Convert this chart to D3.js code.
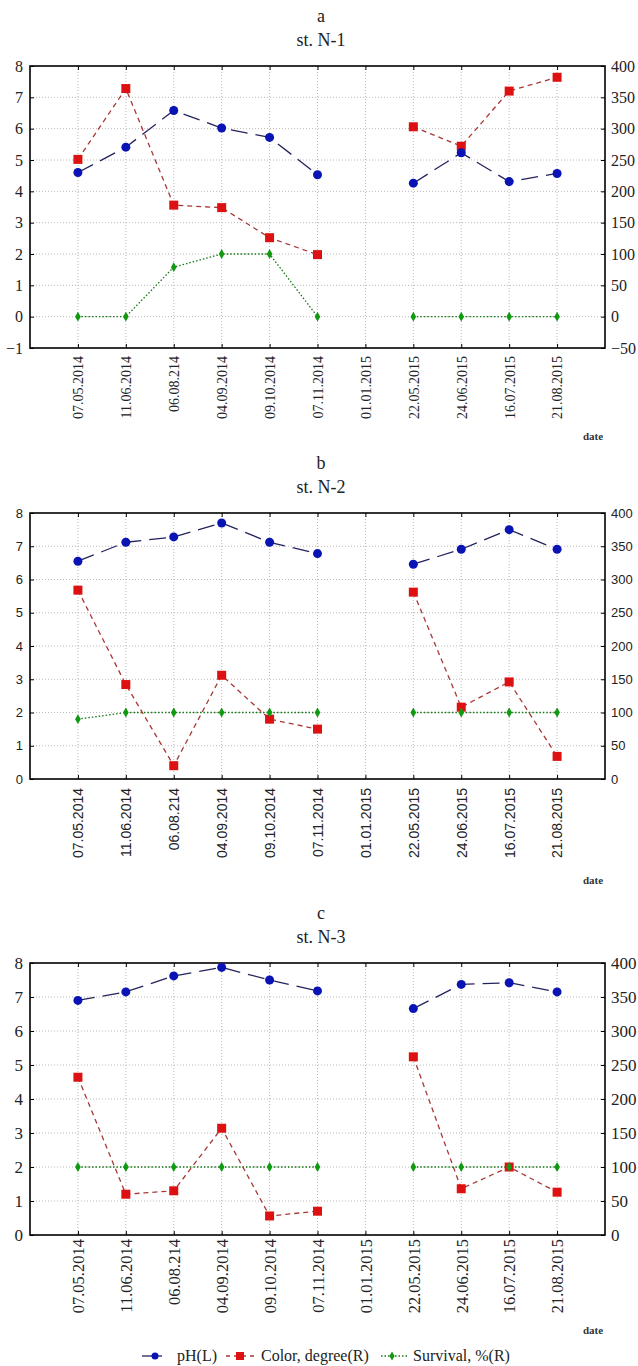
<!DOCTYPE html>
<html>
<head>
<meta charset="utf-8">
<script src="https://cdn.jsdelivr.net/npm/d3@7"></script>
<style>
  body { margin: 0; background: #fff; }
  .serif { font-family: "Liberation Serif", "Times New Roman", "DejaVu Serif", serif; }
  .sans { font-family: "Liberation Sans", Arial, sans-serif; }
</style>
</head>
<body>
<div id="chart"></div>
<script>
// sampling dates (x categories)
var dates = ["07.05.2014", "11.06.2014", "06.08.214", "04.09.2014", "09.10.2014", "07.11.2014",
             "01.01.2015", "22.05.2015", "24.06.2015", "16.07.2015", "21.08.2015"];

// st. N-1
var phA    = [4.6, 5.41, 6.58, 6.02, 5.72, 4.53, null, 4.26, 5.23, 4.31, 4.57];
var colorA = [251, 364, 178, 174, 126, 99, null, 303, 272, 360, 382];
var survA  = [0, 0, 79, 100, 100, 0, null, 0, 0, 0, 0];

// st. N-2
var phB    = [6.55, 7.12, 7.28, 7.7, 7.12, 6.78, null, 6.46, 6.91, 7.5, 6.91];
var colorB = [284, 142, 20, 156, 90, 75, null, 281, 108, 146, 34];
var survB  = [90, 100, 100, 100, 100, 100, null, 100, 100, 100, 100];

// st. N-3
var phC    = [6.9, 7.15, 7.62, 7.87, 7.5, 7.18, null, 6.66, 7.37, 7.42, 7.15];
var colorC = [232, 60, 65, 157, 28, 35, null, 262, 68, 100, 63];
var survC  = [100, 100, 100, 100, 100, 100, null, 100, 100, 100, 100];

// tick labels
var leftTicksA  = [-1, 0, 1, 2, 3, 4, 5, 6, 7, 8];
var rightTicksA = [-50, 0, 50, 100, 150, 200, 250, 300, 350, 400];
var leftTicksBC  = [0, 1, 2, 3, 4, 5, 6, 7, 8];
var rightTicksBC = [0, 50, 100, 150, 200, 250, 300, 350, 400];

var legendLabels = ["pH(L)", "Color, degree(R)", "Survival, %(R)"];

var W = 638, H = 1366;
var plotLeft = 30, plotRight = 605;

var svg = d3.select("#chart").append("svg")
    .attr("width", W)
    .attr("height", H);

// one x scale shared by all three panels
var x = d3.scalePoint()
    .domain(dates)
    .range([plotLeft, plotRight])
    .padding(1);

function drawPanel(p) {
  var g = svg.append("g");

  var yL = d3.scaleLinear()
      .domain([p.leftTicks[0], p.leftTicks[p.leftTicks.length - 1]])
      .range([p.bottom, p.top]);
  var yR = d3.scaleLinear()
      .domain([p.rightTicks[0], p.rightTicks[p.rightTicks.length - 1]])
      .range([p.bottom, p.top]);

  // titles
  g.append("text")
      .attr("class", "serif")
      .attr("x", 321).attr("y", p.top - 44)
      .attr("text-anchor", "middle")
      .style("font-size", "18px")
      .attr("fill", "#222")
      .text(p.letter);
  g.append("text")
      .attr("class", "serif")
      .attr("x", 321).attr("y", p.top - 20)
      .attr("text-anchor", "middle")
      .style("font-size", "18px")
      .attr("fill", "#222")
      .text(p.station);

  // grid
  g.selectAll(".vgrid")
      .data(dates)
    .enter().append("line")
      .attr("x1", function(d) { return x(d); })
      .attr("x2", function(d) { return x(d); })
      .attr("y1", p.top).attr("y2", p.bottom)
      .attr("stroke", "#b8b8b8")
      .attr("stroke-dasharray", "1,2");
  g.selectAll(".hgrid")
      .data(p.leftTicks.slice(1, -1))
    .enter().append("line")
      .attr("x1", plotLeft).attr("x2", plotRight)
      .attr("y1", function(d) { return yL(d); })
      .attr("y2", function(d) { return yL(d); })
      .attr("stroke", "#b8b8b8")
      .attr("stroke-dasharray", "1,2");

  // axes
  var left = g.append("g")
      .attr("transform", "translate(" + plotLeft + ",0)")
      .call(d3.axisLeft(yL).tickValues(p.leftTicks).tickSize(-4).tickPadding(7));
  var right = g.append("g")
      .attr("transform", "translate(" + plotRight + ",0)")
      .call(d3.axisRight(yR).tickValues(p.rightTicks).tickSize(-4).tickPadding(6));
  var bottom = g.append("g")
      .attr("transform", "translate(0," + p.bottom + ")")
      .call(d3.axisBottom(x).tickSize(-4));
  g.append("g")
      .attr("transform", "translate(0," + p.top + ")")
      .call(d3.axisTop(x).tickSize(-4).tickFormat(""));

  // d3 puts font-family on the axis group; drop it so the class wins
  g.selectAll("g").attr("font-family", null).attr("font-size", null);

  [left, right].forEach(function(a) {
    a.selectAll("text")
        .attr("class", p.font)
        .style("font-size", p.tickSize + "px")
        .attr("fill", "#222");
  });
  bottom.selectAll("text")
      .attr("class", p.font)
      .attr("transform", "rotate(-90)")
      .attr("x", -p.labelGap).attr("y", 0).attr("dy", "0.35em")
      .style("text-anchor", "end")
      .style("font-size", p.dateSize + "px")
      .attr("fill", "#222");
  g.selectAll(".domain").remove();
  g.selectAll(".tick line").attr("stroke", "#000");

  // frame
  g.append("rect")
      .attr("x", plotLeft).attr("y", p.top)
      .attr("width", plotRight - plotLeft).attr("height", p.bottom - p.top)
      .attr("fill", "none")
      .attr("stroke", "#000")
      .attr("stroke-width", 1.6);

  g.append("text")
      .attr("class", "serif")
      .attr("x", 593).attr("y", p.dateY)
      .attr("text-anchor", "middle")
      .style("font-size", "11px")
      .style("font-weight", "bold")
      .attr("fill", "#333")
      .text("date");

  function lineFor(scale) {
    return d3.line()
        .defined(function(d) { return d != null; })
        .x(function(d, i) { return x(dates[i]); })
        .y(function(d) { return scale(d); });
  }
  function pts(arr) {
    return arr.map(function(d, i) { return {d: dates[i], v: d}; })
              .filter(function(o) { return o.v != null; });
  }

  // survival, %(R)
  g.append("path")
      .datum(p.surv)
      .attr("fill", "none")
      .attr("stroke", "#147814")
      .attr("stroke-width", 1.3)
      .attr("stroke-dasharray", "1.5,2")
      .attr("d", lineFor(yR));

  // color, degree(R)
  g.append("path")
      .datum(p.color)
      .attr("fill", "none")
      .attr("stroke", "#a83838")
      .attr("stroke-width", 1.3)
      .attr("stroke-dasharray", "5,4")
      .attr("d", lineFor(yR));

  // pH(L)
  g.append("path")
      .datum(p.ph)
      .attr("fill", "none")
      .attr("stroke", "#23235e")
      .attr("stroke-width", 1.3)
      .attr("stroke-dasharray", "17,8")
      .attr("d", lineFor(yL));

  g.selectAll(".sq")
      .data(pts(p.color))
    .enter().append("rect")
      .attr("x", function(o) { return x(o.d) - 4.5; })
      .attr("y", function(o) { return yR(o.v) - 4.5; })
      .attr("width", 9).attr("height", 9)
      .attr("fill", "#dd1111");

  g.selectAll(".dia")
      .data(pts(p.surv))
    .enter().append("path")
      .attr("transform", function(o) { return "translate(" + x(o.d) + "," + yR(o.v) + ")"; })
      .attr("d", d3.symbol(d3.symbolDiamond, 28))
      .attr("fill", "#119a11");

  g.selectAll(".dot")
      .data(pts(p.ph))
    .enter().append("circle")
      .attr("cx", function(o) { return x(o.d); })
      .attr("cy", function(o) { return yL(o.v); })
      .attr("r", 4.5)
      .attr("fill", "#0a14b4");
}

drawPanel({letter: "a", station: "st. N-1", top: 66, bottom: 348,
  leftTicks: leftTicksA, rightTicks: rightTicksA,
  ph: phA, color: colorA, surv: survA,
  font: "serif", tickSize: 16, dateSize: 14, labelGap: 8, dateY: 440});

drawPanel({letter: "b", station: "st. N-2", top: 513, bottom: 779,
  leftTicks: leftTicksBC, rightTicks: rightTicksBC,
  ph: phB, color: colorB, surv: survB,
  font: "sans", tickSize: 13, dateSize: 14, labelGap: 9, dateY: 884});

drawPanel({letter: "c", station: "st. N-3", top: 963, bottom: 1235,
  leftTicks: leftTicksBC, rightTicks: rightTicksBC,
  ph: phC, color: colorC, surv: survC,
  font: "serif", tickSize: 17, dateSize: 16.5, labelGap: 4, dateY: 1334});

// legend
var legend = svg.append("g").attr("transform", "translate(0,1356)");
legend.append("line").attr("x1", 142).attr("x2", 162).attr("y1", 0).attr("y2", 0)
    .attr("stroke", "#23235e").attr("stroke-width", 1.3);
legend.append("circle").attr("cx", 155).attr("cy", 0).attr("r", 3.5).attr("fill", "#0a14b4");
legend.append("line").attr("x1", 226).attr("x2", 256).attr("y1", 0).attr("y2", 0)
    .attr("stroke", "#a83838").attr("stroke-width", 1.3).attr("stroke-dasharray", "4,4");
legend.append("rect").attr("x", 236).attr("y", -4).attr("width", 8).attr("height", 8).attr("fill", "#dd1111");
legend.append("line").attr("x1", 381).attr("x2", 408).attr("y1", 0).attr("y2", 0)
    .attr("stroke", "#147814").attr("stroke-width", 1.3).attr("stroke-dasharray", "1.5,2");
legend.append("path").attr("transform", "translate(392,0)")
    .attr("d", d3.symbol(d3.symbolDiamond, 24)).attr("fill", "#119a11");
legend.selectAll(".lab")
    .data(legendLabels)
  .enter().append("text")
    .attr("class", "serif")
    .attr("x", function(d, i) { return [177, 261, 413][i]; })
    .attr("y", 5)
    .style("font-size", "16px")
    .attr("fill", "#222")
    .text(function(d) { return d; });
</script>
</body>
</html>
